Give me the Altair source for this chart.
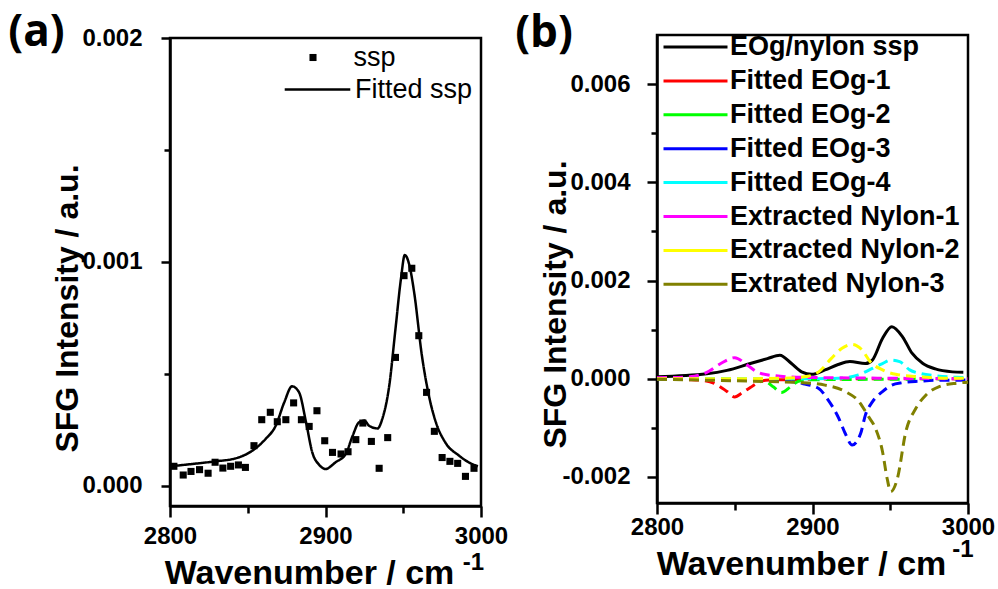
import altair as alt
import pandas as pd

# ---------------- Panel (a) data ----------------
ssp_wn = [2802.5, 2808.5, 2813.5, 2819, 2824.5, 2829, 2834, 2839, 2844, 2848.5,
          2854, 2859, 2864.5, 2869, 2874.5, 2879.5, 2884.5, 2889.5, 2894.5, 2899.5,
          2904.5, 2910, 2914.5, 2919.5, 2924, 2929.5, 2934.5, 2940, 2945, 2950.5,
          2955.5, 2960, 2965, 2970, 2975, 2980, 2985, 2990, 2995.5]
ssp_val = [0.088, 0.049, 0.065, 0.073, 0.057, 0.106, 0.080, 0.088, 0.094, 0.083,
           0.180, 0.296, 0.329, 0.287, 0.296, 0.371, 0.296, 0.266, 0.336, 0.202,
           0.150, 0.143, 0.153, 0.207, 0.281, 0.199, 0.079, 0.216, 0.574, 0.939,
           0.972, 0.671, 0.418, 0.244, 0.127, 0.110, 0.101, 0.043, 0.079]

fit_wn = [2800, 2814, 2829, 2842, 2853, 2861.5, 2868, 2873.5, 2878.5, 2883,
          2887.5, 2891.5, 2896, 2900, 2906.5, 2913, 2917.5, 2921.5, 2925, 2928,
          2933.5, 2936.5, 2941, 2945, 2948.5, 2951, 2954, 2957, 2962, 2966.5,
          2971, 2977, 2986, 2992, 2998]
fit_val = [0.088, 0.098, 0.110, 0.123, 0.158, 0.210, 0.269, 0.374, 0.445, 0.418,
           0.284, 0.150, 0.094, 0.076, 0.106, 0.143, 0.225, 0.284, 0.292, 0.269,
           0.257, 0.299, 0.448, 0.701, 0.924, 1.031, 0.984, 0.865, 0.582, 0.403,
           0.284, 0.195, 0.135, 0.106, 0.088]

# ---------------- Panel (b) data (values in units of 1e-3) ----------------
series_names = ["EOg/nylon ssp", "Fitted EOg-1", "Fitted EOg-2", "Fitted EOg-3",
                "Fitted EOg-4", "Extracted Nylon-1", "Extracted Nylon-2", "Extrated Nylon-3"]
series_colors = ["#000000", "#FF0000", "#00FF00", "#0000FF",
                 "#00FFFF", "#FF00FF", "#FFFF00", "#808000"]

total_wn = [2800, 2832, 2845, 2860, 2871, 2879, 2886.5, 2893, 2899.5, 2908, 2916.5,
            2924, 2934, 2938.5, 2945, 2951, 2958, 2964, 2971, 2979, 2990, 2997]
total_val = [0.04, 0.10, 0.17, 0.31, 0.41, 0.48, 0.31, 0.14, 0.09, 0.18, 0.29,
             0.35, 0.31, 0.38, 0.82, 1.06, 0.85, 0.52, 0.31, 0.20, 0.14, 0.13]

eog1_wn = [2800, 2820, 2828, 2834, 2839, 2845, 2850, 2855, 2860, 2865, 2870, 2880, 2900, 2950, 3000]
eog1_val = [-0.01, -0.02, -0.03, -0.06, -0.13, -0.26, -0.37, -0.28, -0.18, -0.08, -0.03, -0.02, -0.01, 0.0, 0.0]

eog2_wn = [2800, 2850, 2865, 2870, 2875, 2880, 2886, 2891, 2900, 2950, 3000]
eog2_val = [0.0, -0.01, -0.03, -0.06, -0.17, -0.28, -0.16, -0.05, -0.02, -0.01, 0.0]

eog3_wn = [2800, 2850, 2880, 2894, 2904, 2910, 2917, 2921, 2925.5, 2931, 2934,
           2938.5, 2945, 2951, 2958, 2969, 2980, 2992, 3000]
eog3_val = [-0.01, -0.02, -0.04, -0.10, -0.20, -0.43, -0.81, -1.11, -1.35, -1.11, -0.74,
            -0.47, -0.26, -0.13, -0.08, -0.05, -0.03, -0.03, -0.02]

eog4_wn = [2800, 2900, 2916.5, 2929.5, 2938.5, 2945, 2950.5, 2956, 2962.5, 2969, 2979.5, 2992.5, 3000]
eog4_val = [0.0, 0.0, 0.01, 0.08, 0.21, 0.31, 0.38, 0.35, 0.18, 0.11, 0.06, 0.03, 0.02]

ny1_wn = [2800, 2821, 2832, 2841, 2850, 2858, 2865, 2876, 2893, 2950, 3000]
ny1_val = [0.02, 0.04, 0.13, 0.31, 0.43, 0.28, 0.13, 0.06, 0.03, 0.01, 0.0]

ny2_wn = [2800, 2850, 2882, 2895, 2904, 2912, 2919, 2925.5, 2932, 2937, 2945, 2953.5, 2968.5, 2990, 3000]
ny2_val = [0.0, 0.0, 0.01, 0.04, 0.14, 0.41, 0.62, 0.70, 0.58, 0.35, 0.18, 0.09, 0.04, 0.01, 0.01]

ny3_wn = [2800, 2860.5, 2893, 2908, 2921, 2930, 2936, 2940.5, 2945, 2948, 2950.3,
          2954.6, 2960, 2966.5, 2973, 2981.5, 2992.5, 3000]
ny3_val = [-0.01, -0.05, -0.08, -0.13, -0.26, -0.47, -0.77, -1.01, -1.48, -2.03, -2.30,
           -2.03, -1.08, -0.60, -0.33, -0.16, -0.09, -0.07]

b_wn = [total_wn, eog1_wn, eog2_wn, eog3_wn, eog4_wn, ny1_wn, ny2_wn, ny3_wn]
b_val = [total_val, eog1_val, eog2_val, eog3_val, eog4_val, ny1_val, ny2_val, ny3_val]

FONT = "Liberation Sans"
LBL = "replace(format(datum.value, '.3f'), '\u2212', '-')"

# ---------------- Panel (a) ----------------
df_pts = pd.DataFrame({"wn": ssp_wn, "val": [v * 1e-3 for v in ssp_val], "lab_pts": "ssp"})
df_fit = pd.DataFrame({"wn": fit_wn, "val": [v * 1e-3 for v in fit_val], "lab_fit": "Fitted ssp"})

xs_a = alt.Scale(domain=[2800, 3000], nice=False, zero=False)
ys_a = alt.Scale(domain=[-0.0000893, 0.002], nice=False, zero=False)

x_axis_a = alt.Axis(values=[2800, 2900, 3000], format="d", title="Wavenumber / cm",
                    titleX=139, titleY=77, titleAlign="center", titleBaseline="alphabetic",
                    tickSize=11, labelPadding=7, labelFlush=False, grid=False, orient="bottom")
y_axis_a = alt.Axis(values=[0, 0.001, 0.002], labelExpr=LBL, title="SFG Intensity / a.u.",
                    titleX=-93, titleY=270, titleAngle=-90, titleAlign="center",
                    titleBaseline="alphabetic", titleFontSize=32, tickSize=9, labelPadding=19,
                    grid=False, orient="left")

fit_line = alt.Chart(df_fit).mark_line(color="black", strokeWidth=2.5, interpolate="monotone").encode(
    x=alt.X("wn:Q", scale=xs_a, axis=x_axis_a),
    y=alt.Y("val:Q", scale=ys_a, axis=y_axis_a),
    strokeDash=alt.StrokeDash("lab_fit:N", scale=alt.Scale(domain=["Fitted ssp"], range=[[1, 0]]),
                              legend=alt.Legend(orient="none", legendX=113, legendY=17, title=None,
                                                symbolType="stroke", symbolSize=4300,
                                                symbolStrokeWidth=2.5, symbolStrokeColor="black",
                                                labelFont=FONT, labelFontSize=27,
                                                labelFontWeight="normal", labelOffset=3, padding=0)),
)
pts = alt.Chart(df_pts).mark_point(filled=True, size=50, color="black", opacity=1).encode(
    x=alt.X("wn:Q", scale=xs_a, axis=None),
    y=alt.Y("val:Q", scale=ys_a, axis=None),
    shape=alt.Shape("lab_pts:N", scale=alt.Scale(domain=["ssp"], range=["square"]),
                    legend=alt.Legend(orient="none", legendX=129.5, legendY=6, title=None,
                                      symbolSize=50, symbolFillColor="black",
                                      symbolStrokeColor="black", symbolStrokeWidth=0,
                                      labelFont=FONT, labelFontSize=27,
                                      labelFontWeight="normal", labelOffset=27, padding=0)),
)
minor_a = alt.Chart(df_fit).mark_line(opacity=0).encode(
    x=alt.X("wn:Q", scale=xs_a, axis=alt.Axis(values=[2850, 2950], labels=False, tickSize=7,
                                             domain=False, title=None, orient="bottom", grid=False)),
    y=alt.Y("val:Q", scale=ys_a, axis=alt.Axis(values=[0.0005, 0.0015], labels=False, tickSize=6,
                                              domain=False, title=None, orient="left", grid=False)),
)
tag_a = alt.Chart(pd.DataFrame({"t": ["(a)"]})).mark_text(
    font="Open Sans", fontSize=44, fontWeight="bold", align="center", baseline="middle", color="black"
).encode(text="t:N", x=alt.value(-133.5), y=alt.value(-5))
sup_a = alt.Chart(pd.DataFrame({"t": ["-1"]})).mark_text(
    font=FONT, fontSize=24, fontWeight="bold", align="center", baseline="middle", color="black"
).encode(text="t:N", x=alt.value(303.5), y=alt.value(524.5))

panel_a = alt.layer(fit_line, pts, minor_a, tag_a, sup_a).resolve_axis(
    x="independent", y="independent"
).resolve_legend(shape="independent", strokeDash="independent").properties(width=311, height=468)

# invisible strip that drops panel (a) a few pixels below panel (b)
spacer = alt.Chart(pd.DataFrame({"t": [0]})).mark_point(opacity=0).encode(
    x=alt.value(0), y=alt.value(0)
).properties(width=311, height=1, view=alt.ViewBackground(stroke="transparent", strokeWidth=0))

col_a = alt.vconcat(spacer, panel_a, spacing=-31)

# ---------------- Panel (b) ----------------
xs_b = alt.Scale(domain=[2800, 3000], nice=False, zero=False)
ys_b = alt.Scale(domain=[-0.00253, 0.007], nice=False, zero=False)
cs_b = alt.Scale(domain=series_names, range=series_colors)

x_axis_b = alt.Axis(values=[2800, 2900, 3000], format="d", title="Wavenumber / cm",
                    titleX=144, titleY=71, titleAlign="center", titleBaseline="alphabetic",
                    tickSize=11, labelPadding=1, labelFlush=False, grid=False, orient="bottom")
y_axis_b = alt.Axis(values=[-0.002, 0, 0.002, 0.004, 0.006], labelExpr=LBL,
                    title="SFG Intensity / a.u.", titleX=-92, titleY=269, titleAngle=-90,
                    titleAlign="center", titleBaseline="alphabetic", titleFontSize=32,
                    tickSize=10, labelPadding=17, grid=False, orient="left")
legend_b = alt.Legend(orient="none", legendX=5, legendY=-4, title=None, symbolType="stroke",
                      symbolSize=4096, symbolStrokeWidth=3, symbolDash=[1, 0],
                      labelFont=FONT, labelFontSize=27, labelFontWeight="bold",
                      labelOffset=1, padding=0, clipHeight=32, rowPadding=1.9, labelLimit=500)

b_layers = []
for i, name in enumerate(series_names):
    d = pd.DataFrame({"wn": b_wn[i], "val": [v * 1e-3 for v in b_val[i]], "series": name})
    if i == 0:
        mk = alt.Chart(d).mark_line(strokeWidth=3, interpolate="monotone")
        enc = dict(x=alt.X("wn:Q", scale=xs_b, axis=x_axis_b),
                   y=alt.Y("val:Q", scale=ys_b, axis=y_axis_b),
                   color=alt.Color("series:N", scale=cs_b, legend=legend_b))
    else:
        mk = alt.Chart(d).mark_line(strokeWidth=3, strokeDash=[10, 6], interpolate="monotone")
        enc = dict(x=alt.X("wn:Q", scale=xs_b, axis=None), y=alt.Y("val:Q", scale=ys_b, axis=None),
                   color=alt.Color("series:N", scale=cs_b))
    b_layers.append(mk.encode(**enc))

minor_b = alt.Chart(pd.DataFrame({"wn": total_wn, "val": [v * 1e-3 for v in total_val]})).mark_line(opacity=0).encode(
    x=alt.X("wn:Q", scale=xs_b, axis=alt.Axis(values=[2850, 2950], labels=False, tickSize=7,
                                             domain=False, title=None, orient="bottom", grid=False)),
    y=alt.Y("val:Q", scale=ys_b, axis=alt.Axis(values=[-0.001, 0.001, 0.003, 0.005], labels=False,
                                              tickSize=6, domain=False, title=None, orient="left",
                                              grid=False)),
)
tag_b = alt.Chart(pd.DataFrame({"t": ["(b)"]})).mark_text(
    font="Open Sans", fontSize=44, fontWeight="bold", align="center", baseline="middle", color="black"
).encode(text="t:N", x=alt.value(-113), y=alt.value(-1))
sup_b = alt.Chart(pd.DataFrame({"t": ["-1"]})).mark_text(
    font=FONT, fontSize=24, fontWeight="bold", align="center", baseline="middle", color="black"
).encode(text="t:N", x=alt.value(306), y=alt.value(515))

panel_b = alt.layer(*b_layers, minor_b, tag_b, sup_b).resolve_axis(
    x="independent", y="independent"
).properties(width=311, height=468)

chart = alt.hconcat(col_a, panel_b, spacing=4).resolve_scale(
    color="independent", shape="independent", strokeDash="independent"
).properties(
    padding={"left": 7, "top": 9, "right": 0, "bottom": 0}, background="white"
).configure_view(
    stroke="black", strokeWidth=2.5
).configure_axis(
    domainColor="black", domainWidth=2.5, tickColor="black", tickWidth=2.5,
    labelFont=FONT, labelFontSize=24, labelFontWeight="bold", labelColor="black",
    titleFont=FONT, titleFontSize=34, titleFontWeight="bold", titleColor="black"
)

chart.save("out.html", embed_options={"renderer": "svg", "actions": False})
